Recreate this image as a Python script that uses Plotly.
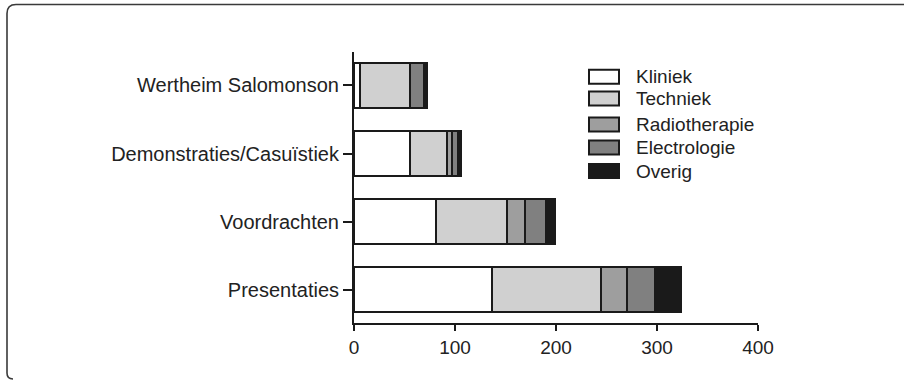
import plotly.graph_objects as go

categories = ["Presentaties", "Voordrachten", "Demonstraties/Casuïstiek", "Wertheim Salomonson"]
series_names = ["Kliniek", "Techniek", "Radiotherapie", "Electrologie", "Overig"]
kliniek = [137, 81, 55, 6]
techniek = [108, 70, 37, 49]
radiotherapie = [25, 18, 5, 0]
electrologie = [28, 21, 6, 14]
overig = [26, 9, 3, 3]
x_ticks = [0, 100, 200, 300, 400]

series_values = [kliniek, techniek, radiotherapie, electrologie, overig]
colors = ["#ffffff", "#d0d0d0", "#9e9e9e", "#808080", "#1a1a1a"]

W, H = 904, 380
ML, MR, MT, MB = 354, 146, 52, 57
PW, PH = W - ML - MR, H - MT - MB


def px(x):
    return (x - ML) / PW


def py(y):
    return (H - MB - y) / PH


fig = go.Figure()
for name, vals, col in zip(series_names, series_values, colors):
    fig.add_trace(go.Bar(
        y=categories, x=vals, name=name, orientation="h",
        marker=dict(color=col, line=dict(color="#1a1a1a", width=2)),
        width=0.66, showlegend=False,
    ))

shapes = []
annotations = []
# manual legend
legend_y = [76.7, 98.5, 124.5, 147.5, 171]
for name, col, yc in zip(series_names, colors, legend_y):
    shapes.append(dict(type="rect", xref="paper", yref="paper",
                       x0=px(589), x1=px(619), y0=py(yc - 7), y1=py(yc + 7),
                       fillcolor=col, line=dict(color="#1a1a1a", width=2)))
    annotations.append(dict(xref="paper", yref="paper", x=px(634), y=py(yc),
                            text=name, showarrow=False, xanchor="left", yanchor="middle",
                            font=dict(family="Liberation Sans, Arial", size=19, color="#222222")))

# outer frame (top/left border with rounded corners)
x0, y0, r = 7, 4.5, 9
path = (f"M {px(W + 5)},{py(y0)} L {px(x0 + r)},{py(y0)} "
        f"Q {px(x0)},{py(y0)} {px(x0)},{py(y0 + r)} "
        f"L {px(x0)},{py(373)} Q {px(x0)},{py(379)} {px(x0 + 6)},{py(379)}")
shapes.append(dict(type="path", xref="paper", yref="paper", path=path,
                   line=dict(color="#3a3a3a", width=1.6)))

fig.update_layout(
    barmode="stack",
    width=W, height=H,
    margin=dict(l=ML, r=MR, t=MT, b=MB, pad=0),
    paper_bgcolor="white", plot_bgcolor="white",
    shapes=shapes, annotations=annotations,
    font=dict(family="Liberation Sans, Arial", color="#222222"),
    xaxis=dict(range=[0, 400], tickvals=x_ticks, showgrid=False, zeroline=False,
               showline=True, linecolor="#1a1a1a", linewidth=2,
               ticks="outside", ticklen=6, tickwidth=2, tickcolor="#1a1a1a",
               tickfont=dict(size=19, color="#222222")),
    yaxis=dict(range=[-0.485, 3.49], showgrid=False, zeroline=False,
               showline=True, linecolor="#1a1a1a", linewidth=2,
               ticks="outside", ticklen=9, tickwidth=2, tickcolor="#1a1a1a",
               tickfont=dict(size=20, color="#222222")),
    showlegend=False,
)

fig.write_html("out.html")
